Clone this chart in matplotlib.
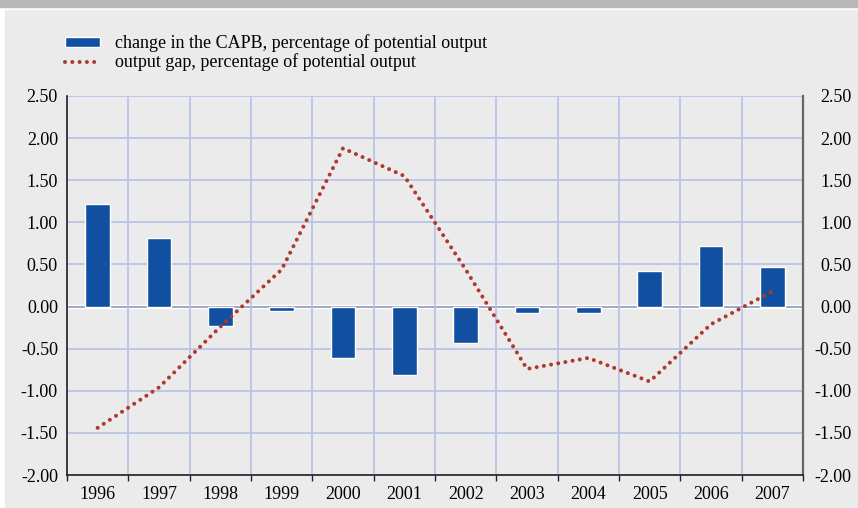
import matplotlib.pyplot as plt
import numpy as np
from matplotlib.patches import Rectangle

# Chart data
years = ['1996', '1997', '1998', '1999', '2000', '2001',
         '2002', '2003', '2004', '2005', '2006', '2007']
capb_change = [1.22, 0.81, -0.23, -0.05, -0.61, -0.81,
               -0.43, -0.08, -0.08, 0.42, 0.72, 0.47]
output_gap = [-1.44, -0.96, -0.24, 0.44, 1.88, 1.55,
              0.44, -0.74, -0.61, -0.89, -0.21, 0.18]
y_ticks = [2.5, 2.0, 1.5, 1.0, 0.5, 0.0, -0.5, -1.0, -1.5, -2.0]

bar_label = 'change in the CAPB, percentage of potential output'
line_label = 'output gap, percentage of potential output'

plt.rcParams['font.family'] = 'serif'
plt.rcParams['font.serif'] = ['Liberation Serif', 'DejaVu Serif']

BG = '#ebebeb'
BLUE = '#1150a0'
RED = '#b0392e'
GRID = '#b7c0e6'

fig = plt.figure(figsize=(8.58, 5.08), dpi=100, facecolor='white')

# background panel and grey strip at the top
fig.patches.append(Rectangle((5 / 858, 0), 1, 1 - 10 / 508,
                             transform=fig.transFigure, color=BG, zorder=-10))
fig.patches.append(Rectangle((0, 1 - 7 / 508), 1, 7 / 508,
                             transform=fig.transFigure, color='#b9b9b9', zorder=-10))

ax = fig.add_axes([67 / 858, 1 - 475 / 508, 736 / 858, 379 / 508])
ax.set_facecolor(BG)

x = np.arange(len(years))
ax.set_xlim(-0.5, len(years) - 0.5)
ax.set_ylim(-2.0, 2.5)

# grid
ax.set_yticks(y_ticks)
ax.set_xticks(np.arange(len(years) + 1) - 0.5, minor=True)
ax.grid(True, axis='y', color=GRID, lw=1.2, zorder=0)
ax.grid(True, axis='x', which='minor', color=GRID, lw=1.2, zorder=0)

# zero line with white halo
ax.axhline(0, color='white', lw=3.2, zorder=1)
ax.axhline(0, color='#333333', lw=1.4, zorder=1.5)

bars = ax.bar(x, capb_change, width=0.4, color=BLUE, edgecolor='white',
              linewidth=1.0, zorder=2)
line, = ax.plot(x, output_gap, color=RED, lw=2.9, linestyle=(0, (0.01, 1.8)),
                dash_capstyle='round', zorder=3)

# axes styling
ax.set_xticks(x)
ax.set_xticklabels(years, fontsize=13)
ax.tick_params(axis='x', which='major', length=0, pad=8)
ax.tick_params(axis='x', which='minor', length=4, direction='out',
               color='#222222', width=1)
ax.set_yticklabels(['%.2f' % v for v in y_ticks], fontsize=13)
ax.tick_params(axis='y', length=0, pad=6.5)

ax.spines['top'].set_visible(False)
ax.spines['left'].set_color('#222222')
ax.spines['left'].set_linewidth(1.2)
ax.spines['bottom'].set_color('#222222')
ax.spines['bottom'].set_linewidth(1.2)
ax.spines['right'].set_color('#666666')
ax.spines['right'].set_linewidth(1.6)

# right hand axis, labels right aligned like the left ones
ax2 = ax.twinx()
ax2.set_ylim(ax.get_ylim())
ax2.set_yticks(y_ticks)
ax2.set_yticklabels(['%.2f' % v for v in y_ticks], fontsize=13, ha='right')
ax2.tick_params(axis='y', length=0, pad=35)
for side in ['top', 'left', 'bottom', 'right']:
    ax2.spines[side].set_visible(False)

# legend
leg = fig.legend([bars, line], [bar_label, line_label], loc='upper left',
                 bbox_to_anchor=(58 / 858, 1 - 27 / 508), frameon=False,
                 fontsize=13, handlelength=1.9, handleheight=0.45,
                 labelspacing=0.08, handletextpad=0.85, borderaxespad=0)

fig.savefig('out.png', dpi=100, facecolor=fig.get_facecolor())
